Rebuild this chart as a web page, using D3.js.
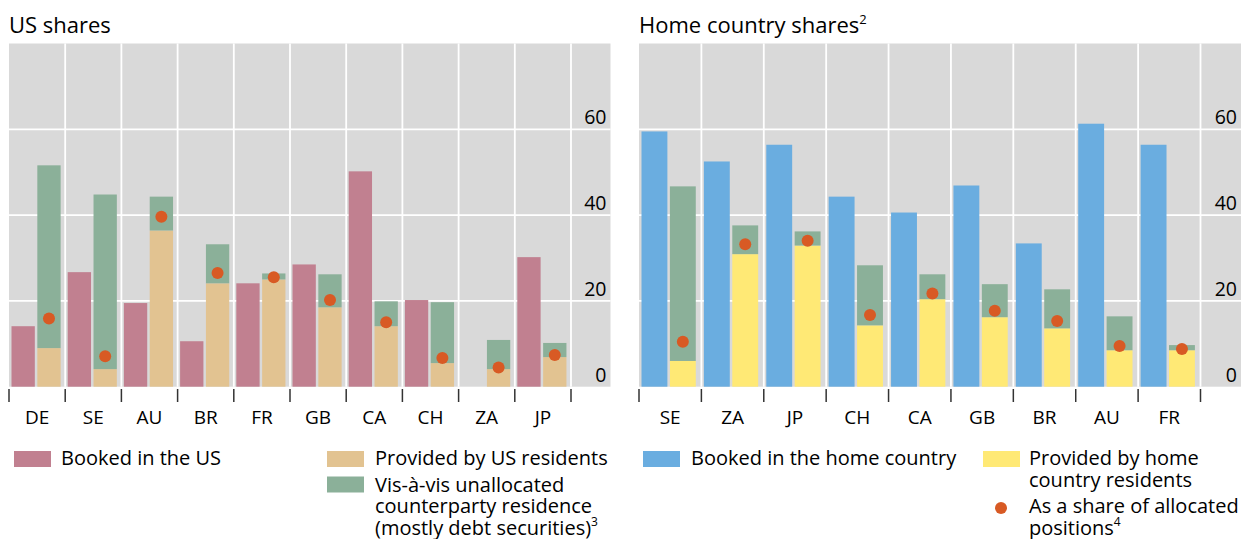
<!DOCTYPE html>
<html>
<head>
<meta charset="utf-8">
<script src="https://cdn.jsdelivr.net/npm/d3@7"></script>
<style>
  body { margin: 0; background: #fff; }
  svg text { font-family: "Open Sans", "Noto Sans", sans-serif; fill: #000; }
</style>
</head>
<body>
<svg id="chart" width="1242" height="539"></svg>
<script>
// ---- Data ----
const usCategories = ["DE", "SE", "AU", "BR", "FR", "GB", "CA", "CH", "ZA", "JP"];
const usBookedInUS = [14.1, 26.7, 19.5, 10.6, 24.1, 28.5, 50.2, 20.2, 0, 30.2];
const usProvidedByUS = [9.0, 4.1, 36.4, 24.1, 25.0, 18.5, 14.1, 5.5, 4.1, 6.9];
const usUnallocated = [42.6, 40.7, 7.9, 9.1, 1.4, 7.7, 5.8, 14.2, 6.8, 3.3];
const usShareAllocated = [15.9, 7.1, 39.6, 26.5, 25.5, 20.2, 15.0, 6.7, 4.5, 7.4];

const homeCategories = ["SE", "ZA", "JP", "CH", "CA", "GB", "BR", "AU", "FR"];
const homeBooked = [59.5, 52.5, 56.4, 44.3, 40.6, 46.9, 33.4, 61.3, 56.4];
const homeProvided = [6.0, 30.9, 32.9, 14.3, 20.4, 16.2, 13.6, 8.5, 8.5];
const homeUnallocated = [40.7, 6.7, 3.3, 14.0, 5.8, 7.7, 9.1, 7.9, 1.2];
const homeShareAllocated = [10.5, 33.2, 34.0, 16.7, 21.7, 17.7, 15.3, 9.5, 8.8];

const yTicks = [0, 20, 40, 60];

// ---- Styles ----
const C = {
  bg: "#d9d9d9", grid: "#ffffff",
  pink: "#c18090", tan: "#e2c391", green: "#8bb099",
  blue: "#6aade0", yellow: "#ffe975", dot: "#d85a24", tick: "#333"
};

const svg = d3.select("#chart");
const y = d3.scaleLinear().domain([0, 80]).range([386.7, 43.5]);

function panel(opts) {
  const { left, bandRight, right, cats, first, provided, unalloc, share, firstColor, secondColor, title, sup } = opts;
  const x = d3.scaleBand().domain(cats).range([left, bandRight]).padding(0);
  const bw = x.bandwidth();
  const barW = bw * 0.415;
  const g = svg.append("g");

  g.append("rect").attr("x", left).attr("y", y(80)).attr("width", right - left)
    .attr("height", y(0) - y(80)).attr("fill", C.bg);

  g.selectAll(".hg").data(yTicks.filter(d => d > 0)).join("line")
    .attr("x1", left).attr("x2", right).attr("y1", d => y(d)).attr("y2", d => y(d))
    .attr("stroke", C.grid).attr("stroke-width", 1.8);
  const bounds = cats.map(c => x(c)).concat([bandRight]);
  g.selectAll(".vg").data(bounds.slice(1)).join("line")
    .attr("x1", d => d).attr("x2", d => d).attr("y1", y(80)).attr("y2", y(0))
    .attr("stroke", C.grid).attr("stroke-width", 1.8);

  g.selectAll(".b1").data(cats).join("rect")
    .attr("x", c => x(c) + 2.5).attr("width", barW)
    .attr("y", (c, i) => y(first[i])).attr("height", (c, i) => y(0) - y(first[i]))
    .attr("fill", firstColor);
  g.selectAll(".b2").data(cats).join("rect")
    .attr("x", c => x(c) + 5 + barW).attr("width", barW)
    .attr("y", (c, i) => y(provided[i])).attr("height", (c, i) => y(0) - y(provided[i]))
    .attr("fill", secondColor);
  g.selectAll(".b3").data(cats).join("rect")
    .attr("x", c => x(c) + 5 + barW).attr("width", barW)
    .attr("y", (c, i) => y(provided[i] + unalloc[i]))
    .attr("height", (c, i) => y(provided[i]) - y(provided[i] + unalloc[i]))
    .attr("fill", C.green);
  g.selectAll(".dt").data(cats).join("circle")
    .attr("cx", c => x(c) + 5 + barW * 1.5).attr("cy", (c, i) => y(share[i]))
    .attr("r", 6).attr("fill", C.dot);

  g.selectAll(".yl").data(yTicks).join("text")
    .attr("x", right - 4).attr("y", d => y(d) - 5).attr("text-anchor", "end")
    .attr("font-size", 19.5).text(d => d);

  g.selectAll(".bt").data(bounds).join("line")
    .attr("x1", d => d).attr("x2", d => d).attr("y1", 389).attr("y2", 402)
    .attr("stroke", C.tick).attr("stroke-width", 1.5);
  g.selectAll(".cl").data(cats).join("text")
    .attr("x", c => x(c) + bw / 2).attr("y", 424).attr("text-anchor", "middle")
    .attr("font-size", 19).text(c => c);

  const t = g.append("text").attr("x", left).attr("y", 33).attr("font-size", 22).text(title);
  if (sup) t.append("tspan").attr("font-size", 13).attr("dy", -9).text(sup);
}

panel({ left: 9, bandRight: 571, right: 610.5, cats: usCategories, first: usBookedInUS,
  provided: usProvidedByUS, unalloc: usUnallocated, share: usShareAllocated,
  firstColor: C.pink, secondColor: C.tan, title: "US shares" });
panel({ left: 639, bandRight: 1200.5, right: 1241, cats: homeCategories, first: homeBooked,
  provided: homeProvided, unalloc: homeUnallocated, share: homeShareAllocated,
  firstColor: C.blue, secondColor: C.yellow, title: "Home country shares", sup: "2" });

// ---- Legend ----
const LF = 20, LH = 21.5;
function swatch(xp, yp, color) {
  svg.append("rect").attr("x", xp).attr("y", yp).attr("width", 37).attr("height", 16).attr("fill", color);
}
function label(xp, yp, lines, sup) {
  const t = svg.append("text").attr("x", xp).attr("y", yp).attr("font-size", LF);
  lines.forEach((ln, i) => {
    t.append("tspan").attr("x", xp).attr("y", yp + i * LH).text(ln);
  });
  if (sup) t.append("tspan").attr("font-size", 12).attr("dy", -9).text(sup);
}
swatch(14, 451, C.pink); label(61, 465, ["Booked in the US"]);
swatch(327, 451, C.tan); label(375, 465, ["Provided by US residents"]);
swatch(327, 476.5, C.green);
label(375, 491.5, ["Vis-à-vis unallocated", "counterparty residence", "(mostly debt securities)"], "3");

swatch(643, 451, C.blue); label(691, 465, ["Booked in the home country"]);
swatch(983, 451, C.yellow); label(1029, 465, ["Provided by home", "country residents"]);
svg.append("circle").attr("cx", 1001).attr("cy", 508).attr("r", 6).attr("fill", C.dot);
label(1029, 513, ["As a share of allocated", "positions"], "4");
</script>
</body>
</html>
